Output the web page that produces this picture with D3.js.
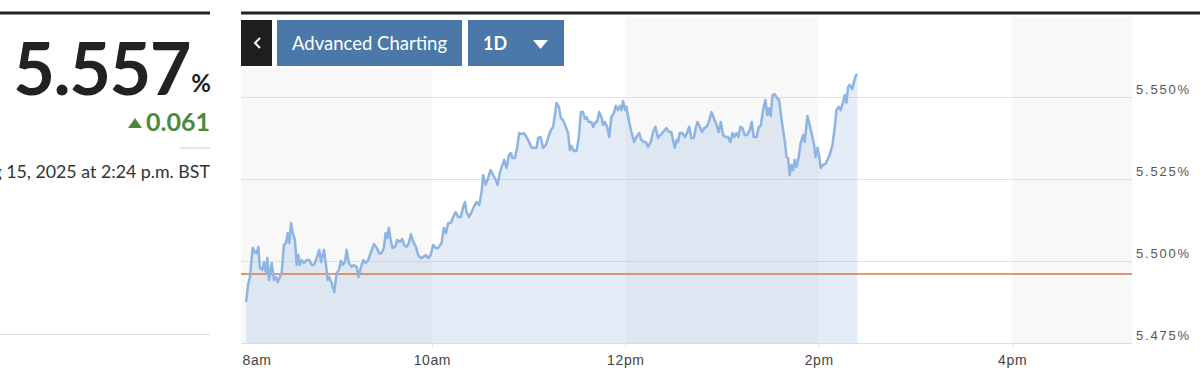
<!DOCTYPE html>
<html lang="en">
<head>
<meta charset="UTF-8">
<title>Yield 1D</title>
<style>
  body { margin: 0; background: #fff; width: 1200px; height: 377px; overflow: hidden; }
  svg { display: block; }
  .hdr { font-family: Lato, 'Open Sans', sans-serif; }
  .axis text { font-family: 'Liberation Sans', Arial, sans-serif; font-size: 14px; fill: #444; letter-spacing: 0.6px; }
  .ylab { font-family: 'Liberation Sans', Arial, sans-serif; font-size: 13px; fill: #555; letter-spacing: 1.8px; }
</style>
<script src="https://d3js.org/d3.v7.min.js"></script>
</head>
<body>
<svg id="chart" width="1200" height="377"></svg>
<script>
// quote header
const lastValue = 5.557;
const change = 0.061;
const prevClose = 5.496;
const stamp = "Aug 15, 2025 at 2:24 p.m. BST";

// intraday series: minutes after 8:00, yield in %
const minutes = [
  4.7, 6.1, 7.1, 8.8, 10.2, 11.3, 12.3, 13.3, 14.8, 15.8,
  17.1, 17.9, 18.9, 20.6, 22.0, 23.3, 24.3, 25.7, 26.8, 28.2,
  29.5, 30.5, 31.5, 32.6, 33.6, 35.0, 36.1, 37.1, 38.1, 39.2,
  40.6, 42.3, 43.9, 45.4, 46.8, 48.5, 50.1, 51.2, 53.0, 54.3,
  55.3, 56.3, 57.8, 59.4, 60.9, 62.3, 63.6, 64.6, 66.0, 67.1,
  68.5, 70.2, 71.6, 73.3, 74.5, 76.0, 77.4, 78.9, 80.5, 82.2,
  84.0, 85.7, 87.3, 88.8, 90.2, 91.3, 92.3, 93.3, 94.4, 95.6,
  97.1, 98.5, 100.2, 101.6, 102.8, 104.3, 105.7, 107.0, 108.4, 110.1,
  111.5, 113.0, 114.6, 116.1, 117.7, 119.2, 120.8, 122.3, 123.9, 126.0,
  127.4, 128.7, 130.1, 131.8, 133.2, 134.7, 136.3, 138.0, 139.4, 140.5,
  141.5, 143.1, 144.6, 146.0, 147.7, 149.3, 150.8, 151.8, 153.3, 154.5,
  156.4, 158.0, 159.7, 160.7, 162.2, 163.8, 164.8, 166.3, 167.8, 169.0,
  170.0, 171.5, 172.9, 174.1, 175.6, 177.1, 178.7, 180.3, 181.8, 183.4,
  184.9, 185.9, 187.4, 189.0, 190.7, 192.1, 193.8, 195.2, 196.3, 197.3,
  198.8, 200.0, 201.4, 203.1, 204.5, 205.6, 206.6, 208.1, 209.7, 211.2,
  212.4, 213.8, 214.9, 215.9, 217.4, 219.0, 220.0, 221.5, 222.5, 223.8,
  225.2, 226.2, 227.3, 228.7, 230.0, 231.4, 232.9, 234.1, 235.5, 236.6,
  237.6, 238.6, 239.9, 240.7, 242.4, 243.8, 245.5, 246.9, 248.6, 250.0,
  251.5, 252.7, 254.1, 255.8, 257.2, 258.7, 260.3, 261.8, 263.4, 265.5,
  267.2, 268.6, 269.6, 270.7, 271.8, 272.7, 273.8, 275.5, 276.9, 278.3,
  279.6, 281.0, 282.5, 283.7, 284.8, 286.2, 287.6, 288.9, 290.4, 291.8,
  293.5, 294.9, 296.6, 298.0, 299.2, 300.7, 302.1, 303.8, 305.2, 306.5,
  307.7, 309.0, 310.2, 311.4, 312.7, 314.1, 315.5, 317.2, 318.4, 319.7,
  321.4, 322.8, 324.0, 325.5, 326.9, 328.2, 329.2, 330.2, 331.3, 332.7,
  334.1, 335.4, 336.6, 337.9, 339.1, 340.0, 341.0, 342.0, 343.1, 344.1,
  345.1, 346.2, 347.6, 348.8, 350.3, 351.3, 353.0, 354.4, 356.1, 357.1,
  358.1, 359.2, 360.2, 361.2, 362.7, 364.2, 365.4, 366.8, 368.5, 369.9,
  371.0, 372.4, 373.6, 375.1, 376.1, 377.2, 378.2, 379.2, 380.7, 381.9,
  383.0, 384.0
];
const yields = [
  5.4875, 5.4933, 5.4951, 5.5040, 5.5027, 5.5024, 5.5043, 5.4979, 5.4973, 5.4997,
  5.4963, 5.5009, 5.4942, 5.4994, 5.4942, 5.4951, 5.4936, 5.4951, 5.4966, 5.5049,
  5.5055, 5.5085, 5.5055, 5.5116, 5.5085, 5.5064, 5.4988, 5.5018, 5.4988, 5.5003,
  5.4994, 5.5003, 5.5003, 5.4988, 5.4988, 5.5009, 5.5034, 5.4997, 5.5034, 5.4988,
  5.4942, 5.4951, 5.4933, 5.4905, 5.4963, 5.4973, 5.5000, 5.4988, 5.4997, 5.5034,
  5.4994, 5.4982, 5.4988, 5.4982, 5.4951, 5.4982, 5.5003, 5.4994, 5.5003, 5.5027,
  5.5052, 5.5040, 5.5024, 5.5024, 5.5040, 5.5085, 5.5070, 5.5101, 5.5064, 5.5040,
  5.5043, 5.5064, 5.5058, 5.5067, 5.5049, 5.5043, 5.5055, 5.5082, 5.5058, 5.5043,
  5.5018, 5.5009, 5.5012, 5.5018, 5.5009, 5.5018, 5.5049, 5.5040, 5.5040, 5.5055,
  5.5101, 5.5085, 5.5116, 5.5116, 5.5134, 5.5149, 5.5134, 5.5134, 5.5165, 5.5180,
  5.5149, 5.5134, 5.5149, 5.5165, 5.5180, 5.5171, 5.5210, 5.5262, 5.5232, 5.5247,
  5.5277, 5.5262, 5.5247, 5.5232, 5.5271, 5.5293, 5.5308, 5.5284, 5.5323, 5.5329,
  5.5314, 5.5314, 5.5345, 5.5390, 5.5387, 5.5390, 5.5378, 5.5363, 5.5345, 5.5345,
  5.5345, 5.5375, 5.5378, 5.5345, 5.5354, 5.5375, 5.5399, 5.5409, 5.5445, 5.5482,
  5.5470, 5.5436, 5.5430, 5.5409, 5.5390, 5.5338, 5.5351, 5.5335, 5.5335, 5.5378,
  5.5454, 5.5454, 5.5433, 5.5439, 5.5424, 5.5424, 5.5409, 5.5424, 5.5424, 5.5454,
  5.5439, 5.5415, 5.5424, 5.5409, 5.5378, 5.5439, 5.5451, 5.5473, 5.5460, 5.5473,
  5.5460, 5.5488, 5.5460, 5.5470, 5.5424, 5.5393, 5.5363, 5.5378, 5.5390, 5.5369,
  5.5363, 5.5363, 5.5348, 5.5363, 5.5393, 5.5409, 5.5375, 5.5384, 5.5393, 5.5405,
  5.5393, 5.5393, 5.5369, 5.5345, 5.5369, 5.5363, 5.5390, 5.5390, 5.5378, 5.5390,
  5.5409, 5.5375, 5.5375, 5.5405, 5.5424, 5.5409, 5.5393, 5.5405, 5.5409, 5.5424,
  5.5454, 5.5436, 5.5415, 5.5393, 5.5424, 5.5384, 5.5378, 5.5378, 5.5363, 5.5390,
  5.5378, 5.5390, 5.5378, 5.5409, 5.5405, 5.5384, 5.5384, 5.5399, 5.5424, 5.5378,
  5.5378, 5.5409, 5.5412, 5.5460, 5.5491, 5.5445, 5.5466, 5.5442, 5.5506, 5.5509,
  5.5497, 5.5491, 5.5445, 5.5399, 5.5360, 5.5317, 5.5314, 5.5262, 5.5293, 5.5277,
  5.5308, 5.5287, 5.5317, 5.5360, 5.5384, 5.5363, 5.5442, 5.5415, 5.5378, 5.5354,
  5.5317, 5.5345, 5.5323, 5.5284, 5.5293, 5.5296, 5.5308, 5.5323, 5.5354, 5.5405,
  5.5460, 5.5470, 5.5460, 5.5485, 5.5506, 5.5482, 5.5530, 5.5537, 5.5524, 5.5546,
  5.5565, 5.5570
];

const yTicks = [5.475, 5.500, 5.525, 5.550];
const xTickHours = [8, 10, 12, 14, 16];
const xTickLabels = ["8am", "10am", "12pm", "2pm", "4pm"];

const day = (h, m) => new Date(2025, 7, 15, h, m || 0);
const data = d3.zip(minutes, yields).map(d => ({ t: new Date(day(8).getTime() + d[0] * 60000), v: d[1] }));

const svg = d3.select("#chart");

// plot box
const L = 241, R = 1132, T = 17, B = 343;

const x = d3.scaleTime().domain([day(8), day(17, 15)]).range([238.5, 1133]);
const y = d3.scaleLinear().domain([5.475, 5.550]).range([B, 97]);

// ---------- left quote panel ----------
svg.append("rect").attr("x", 0).attr("y", 11.5).attr("width", 210).attr("height", 3).attr("fill", "#222");

svg.append("text").attr("class", "hdr")
  .attr("x", 190).attr("y", 95).attr("text-anchor", "end")
  .attr("font-size", 72).attr("font-weight", 700).attr("letter-spacing", -1.5)
  .attr("fill", "#222").text(lastValue.toFixed(3));

svg.append("text").attr("class", "hdr")
  .attr("x", 211).attr("y", 92).attr("text-anchor", "end")
  .attr("font-size", 24).attr("font-weight", 700).attr("fill", "#222").text("%");

svg.append("path").attr("d", "M128,128 L142,128 L135,118 Z").attr("fill", "#4b8a3e");
svg.append("text").attr("class", "hdr")
  .attr("x", 210).attr("y", 131).attr("text-anchor", "end")
  .attr("font-size", 25).attr("font-weight", 700).attr("fill", "#4b8a3e")
  .text(change.toFixed(3));

svg.append("line").attr("x1", 180).attr("x2", 210).attr("y1", 148).attr("y2", 148)
  .attr("stroke", "#ccc").attr("stroke-width", 1);

svg.append("text").attr("class", "hdr")
  .attr("x", 210).attr("y", 178).attr("text-anchor", "end")
  .attr("font-size", 17.8).attr("fill", "#333").text(stamp);

svg.append("line").attr("x1", 0).attr("x2", 210).attr("y1", 334.5).attr("y2", 334.5)
  .attr("stroke", "#ddd").attr("stroke-width", 1);

// ---------- chart ----------
svg.append("rect").attr("x", L).attr("y", 11.5).attr("width", 1200 - L).attr("height", 3).attr("fill", "#222");

// alternating 2-hour bands
const bandStarts = d3.timeHour.every(2).range(day(8), day(17, 15));
svg.append("g").selectAll("rect")
  .data(bandStarts.filter((d, i) => i % 2 === 0))
  .join("rect")
  .attr("x", d => Math.max(L, x(d)))
  .attr("width", d => Math.min(R, x(d3.timeHour.offset(d, 2))) - Math.max(L, x(d)))
  .attr("y", T).attr("height", B - T)
  .attr("fill", "#f8f8f8");

// grid
svg.append("g").selectAll("line").data(yTicks).join("line")
  .attr("x1", L).attr("x2", R)
  .attr("y1", d => Math.round(y(d)) + 0.5).attr("y2", d => Math.round(y(d)) + 0.5)
  .attr("stroke", "#e0e0e0");

// area + line
const area = d3.area().x(d => x(d.t)).y0(B).y1(d => y(d.v)).curve(d3.curveLinear);
const line = d3.line().x(d => x(d.t)).y(d => y(d.v)).curve(d3.curveLinear);

svg.append("path").datum(data).attr("d", area)
  .attr("fill", "#8ab0dc").attr("fill-opacity", 0.24);

svg.append("line")
  .attr("x1", L).attr("x2", R)
  .attr("y1", y(prevClose)).attr("y2", y(prevClose))
  .attr("stroke", "#d97a40").attr("stroke-width", 1.5);

svg.append("path").datum(data).attr("d", line)
  .attr("fill", "none").attr("stroke", "#8db4e2").attr("stroke-width", 2.5)
  .attr("stroke-linejoin", "round");

// y labels
svg.append("g").selectAll("text").data(yTicks).join("text")
  .attr("class", "ylab")
  .attr("x", 1136).attr("y", d => y(d) - 3)
  .text(d => d3.format(".3f")(d) + "%");

// x axis
const xAxis = d3.axisBottom(x)
  .tickValues(xTickHours.map(h => day(h)))
  .tickFormat((d, i) => xTickLabels[i])
  .tickSize(4).tickPadding(4);

const gx = svg.append("g").attr("class", "axis").attr("transform", `translate(0,${B})`).call(xAxis);
gx.select(".domain").remove();
gx.selectAll(".tick line").attr("stroke", "#ddd");
gx.selectAll(".tick text").attr("dy", "1em");
gx.selectAll(".tick").filter((d, i) => i === 0).each(function () {
  d3.select(this).select("line").remove();
  d3.select(this).select("text").attr("text-anchor", "start").attr("x", L + 1 - x(day(8)));
});
svg.append("line").attr("x1", L).attr("x2", R).attr("y1", B + 0.5).attr("y2", B + 0.5).attr("stroke", "#ddd");

// ---------- toolbar ----------
svg.append("rect").attr("x", L).attr("y", 15).attr("width", 330).attr("height", 53).attr("fill", "#fff");
svg.append("rect").attr("x", L).attr("y", 20).attr("width", 31).attr("height", 46).attr("fill", "#1e1e1e");
svg.append("path").attr("d", "M260,38 L255,43 L260,48").attr("fill", "none")
  .attr("stroke", "#fff").attr("stroke-width", 2);

svg.append("rect").attr("x", 277).attr("y", 20).attr("width", 185).attr("height", 46).attr("fill", "#4a78a8");
svg.append("text").attr("class", "hdr").attr("x", 369.5).attr("y", 49.5)
  .attr("text-anchor", "middle").attr("font-size", 18.5).attr("fill", "#fff").text("Advanced Charting");

svg.append("rect").attr("x", 468).attr("y", 20).attr("width", 96).attr("height", 46).attr("fill", "#4a78a8");
svg.append("text").attr("class", "hdr").attr("x", 483).attr("y", 49.5)
  .attr("font-size", 18).attr("font-weight", 700).attr("fill", "#fff").text("1D");
svg.append("path").attr("d", "M533,40 L548,40 L540.5,49 Z").attr("fill", "#fff");
</script>
</body>
</html>
